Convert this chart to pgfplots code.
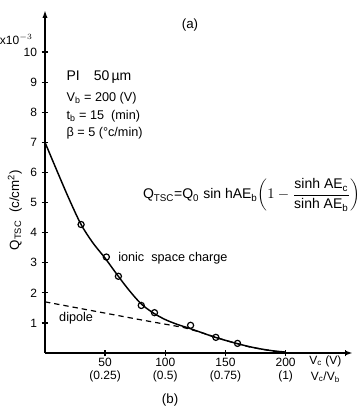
\documentclass[border=0pt]{standalone}
\usepackage{pgfplots}
\pgfplotsset{compat=1.18}
\usepackage{fontspec}
\setmainfont{Liberation Sans}
\usetikzlibrary{arrows.meta}
\begin{document}
\begin{tikzpicture}
\begin{axis}[
  scale only axis, width=231pt, height=257.25pt,
  xmin=0, xmax=256, ymin=0, ymax=11.4,
  axis lines=left,
  axis line style={line width=1.4pt,-{Latex[length=6pt,width=4pt]}},
  xtick={50,100,150,200,250},
  xticklabels={50\\(0.25),100\\(0.5),150\\(0.75),200\\(1),{}},
  xticklabel style={align=center,font=\fontsize{9}{10}\selectfont,inner sep=1pt},
  ytick={1,2,3,4,5,6,7,8,9,10},
  yticklabel style={font=\fontsize{9}{10}\selectfont},
  /pgf/number format/assume math mode=true,
  tick style={line width=1pt,black},
  major tick length=5pt,
  tick align=center,
  clip=false,
]
% ionic space charge fit curve
\addplot[black, line width=1.1pt, smooth] coordinates {
 (0,7.0) (10,6.05) (20,5.12) (30,4.27) (40,3.65) (50,3.15) (60,2.6) (70,2.08)
 (80,1.63) (90,1.33) (100,1.11) (110,0.95) (120,0.82) (130,0.68) (140,0.54)
 (150,0.42) (160,0.31) (170,0.21) (180,0.13) (190,0.07) (200,0.03)};
% dipole
\addplot[black, line width=0.9pt, dashed, dash pattern=on 4pt off 3pt] coordinates {
 (0,1.7) (40,1.4) (80,1.1) (115,0.85) (130,0.68) (150,0.42) (170,0.2) (190,0.06) (200,0.02)};
% measured
\addplot[only marks, mark=o, mark size=2.3pt, mark options={line width=0.9pt, fill=white}] coordinates {
 (30,4.27) (51,3.19) (61,2.55) (80,1.58) (91,1.34) (121,0.92) (142,0.52) (160,0.32)};

\node[font=\fontsize{10}{11}\selectfont] at (axis cs:120.5,10.9) {(a)};
\node[anchor=south east,font=\fontsize{9}{10}\selectfont,inner sep=1pt] at (axis cs:-9,10.2) {x10$^{-3}$};
\node[anchor=west,font=\fontsize{10.5}{12}\selectfont] at (axis cs:14,9.17) {PI\quad 50\,µm};
\node[anchor=west,font=\fontsize{9.5}{11}\selectfont] at (axis cs:14,8.47) {V\textsubscript{b} = 200 (V)};
\node[anchor=west,font=\fontsize{9.5}{11}\selectfont] at (axis cs:14,7.88) {t\textsubscript{b} = 15\ \ (min)};
\node[anchor=west,font=\fontsize{9.5}{11}\selectfont] at (axis cs:14,7.31) {β = 5 (°c/min)};
\node[rotate=90,font=\fontsize{10}{11}\selectfont] at (axis cs:-25,4.75) {Q\textsubscript{TSC}\ \ (c/cm\textsuperscript{2})};
\node[anchor=east,font=\fontsize{10.5}{12}\selectfont,inner sep=0pt] at (axis cs:262,5.25)
 {Q\textsubscript{TSC}=Q\textsubscript{0} sin hAE\textsubscript{b}$\displaystyle\left(1-\frac{\mbox{sinh AE\textsubscript{c}}}{\mbox{sinh AE\textsubscript{b}}}\right)$};
\node[anchor=west,font=\fontsize{9.5}{11}\selectfont] at (axis cs:57,3.16) {ionic\ \ space charge};
\node[anchor=west,font=\fontsize{9.5}{11}\selectfont,inner sep=1pt] at (axis cs:10.5,1.16) {dipole};
\node[font=\fontsize{9}{10}\selectfont] at (axis cs:233,-0.27) {V\textsubscript{c}\ (V)};
\node[font=\fontsize{9}{10}\selectfont] at (axis cs:233,-0.8) {V\textsubscript{c}/V\textsubscript{b}};
\node[font=\fontsize{10}{11}\selectfont] at (axis cs:104,-1.56) {(b)};
\end{axis}
\pgfresetboundingbox
\path (-33.75pt,-45pt) rectangle (236.25pt,264.75pt);
\end{tikzpicture}
\end{document}
